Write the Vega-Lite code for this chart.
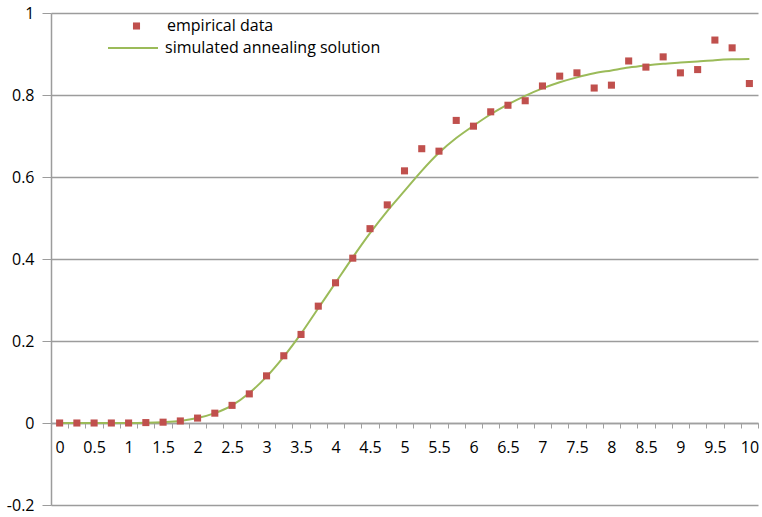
{
  "$schema": "https://vega.github.io/schema/vega-lite/v6.json",
  "autosize": "none",
  "width": 707,
  "height": 492,
  "padding": {"left": 51, "top": 13, "right": 4, "bottom": 12},
  "background": "white",
  "config": {
    "view": {"stroke": null},
    "font": "Open Sans",
    "axis": {"labelFont": "Open Sans", "labelFontSize": 16, "labelColor": "#000000"},
    "legend": {"labelFont": "Open Sans", "labelFontSize": 16, "labelColor": "#000000", "labelLimit": 0}
  },
  "data": {
    "values": [
      {"x": 0, "y": 0, "fit": 0},
      {"x": 0.25, "y": 0, "fit": 0},
      {"x": 0.5, "y": 0, "fit": 0},
      {"x": 0.75, "y": 0, "fit": 0},
      {"x": 1, "y": 0, "fit": 0},
      {"x": 1.25, "y": 0.001, "fit": 0.0005},
      {"x": 1.5, "y": 0.002, "fit": 0.002},
      {"x": 1.75, "y": 0.005, "fit": 0.005},
      {"x": 2, "y": 0.012, "fit": 0.012},
      {"x": 2.25, "y": 0.024, "fit": 0.024},
      {"x": 2.5, "y": 0.043, "fit": 0.043},
      {"x": 2.75, "y": 0.071, "fit": 0.073},
      {"x": 3, "y": 0.115, "fit": 0.113},
      {"x": 3.25, "y": 0.164, "fit": 0.162},
      {"x": 3.5, "y": 0.216, "fit": 0.218},
      {"x": 3.75, "y": 0.285, "fit": 0.28},
      {"x": 4, "y": 0.342, "fit": 0.342},
      {"x": 4.25, "y": 0.402, "fit": 0.404},
      {"x": 4.5, "y": 0.474, "fit": 0.463},
      {"x": 4.75, "y": 0.532, "fit": 0.517},
      {"x": 5, "y": 0.615, "fit": 0.566},
      {"x": 5.25, "y": 0.669, "fit": 0.615},
      {"x": 5.5, "y": 0.663, "fit": 0.659},
      {"x": 5.75, "y": 0.738, "fit": 0.695},
      {"x": 6, "y": 0.724, "fit": 0.725},
      {"x": 6.25, "y": 0.759, "fit": 0.753},
      {"x": 6.5, "y": 0.775, "fit": 0.777},
      {"x": 6.75, "y": 0.786, "fit": 0.798},
      {"x": 7, "y": 0.822, "fit": 0.816},
      {"x": 7.25, "y": 0.846, "fit": 0.831},
      {"x": 7.5, "y": 0.854, "fit": 0.843},
      {"x": 7.75, "y": 0.817, "fit": 0.853},
      {"x": 8, "y": 0.824, "fit": 0.86},
      {"x": 8.25, "y": 0.883, "fit": 0.867},
      {"x": 8.5, "y": 0.868, "fit": 0.872},
      {"x": 8.75, "y": 0.893, "fit": 0.876},
      {"x": 9, "y": 0.854, "fit": 0.879},
      {"x": 9.25, "y": 0.862, "fit": 0.882},
      {"x": 9.5, "y": 0.934, "fit": 0.885},
      {"x": 9.75, "y": 0.915, "fit": 0.887},
      {"x": 10, "y": 0.828, "fit": 0.888}
    ]
  },
  "layer": [
    {
      "mark": {"type": "line", "interpolate": "monotone", "strokeWidth": 2},
      "encoding": {
        "x": {
          "field": "x", "type": "quantitative",
          "scale": {"domain": [-0.125, 10.125], "nice": false, "zero": false},
          "axis": {
            "orient": "bottom",
            "title": null, "labels": false, "grid": false, "offset": -82,
            "domain": true, "domainColor": "#a0a0a0", "domainWidth": 1.5,
            "ticks": true, "tickColor": "#a0a0a0", "tickSize": 5, "tickWidth": 1,
            "values": [-0.125, 0.125, 0.375, 0.625, 0.875, 1.125, 1.375, 1.625, 1.875, 2.125, 2.375, 2.625, 2.875, 3.125, 3.375, 3.625, 3.875, 4.125, 4.375, 4.625, 4.875, 5.125, 5.375, 5.625, 5.875, 6.125, 6.375, 6.625, 6.875, 7.125, 7.375, 7.625, 7.875, 8.125, 8.375, 8.625, 8.875, 9.125, 9.375, 9.625, 9.875, 10.125]
          }
        },
        "y": {
          "field": "fit", "type": "quantitative",
          "scale": {"domain": [-0.2, 1], "nice": false, "zero": false},
          "axis": {
            "title": null, "values": [-0.2, 0, 0.2, 0.4, 0.6, 0.8, 1],
            "grid": true, "gridColor": "#9c9c9c", "gridWidth": 1.5,
            "domainColor": "#9c9c9c", "domainWidth": 1.5,
            "tickColor": "#9c9c9c", "tickSize": 9, "labelPadding": 8,
            "labelExpr": "toString(round(datum.value*10)/10)"
          }
        },
        "color": {
          "datum": "simulated annealing solution",
          "scale": {"range": ["#9BBB59"]},
          "legend": {
            "title": null, "orient": "none", "legendX": 56, "legendY": 9,
            "symbolType": "stroke", "symbolSize": 2500, "symbolStrokeWidth": 2,
            "labelOffset": 6, "padding": 0, "labelLimit": 0
          }
        }
      }
    },
    {
      "mark": {"type": "point", "shape": "square", "filled": true, "opacity": 1, "size": 50},
      "encoding": {
        "x": {
          "field": "x", "type": "quantitative",
          "scale": {"domain": [-0.125, 10.125], "nice": false, "zero": false},
          "axis": {
            "orient": "bottom",
            "title": null, "grid": false, "offset": -82, "domain": false, "ticks": false,
            "labelPadding": 16,
            "values": [0, 0.5, 1, 1.5, 2, 2.5, 3, 3.5, 4, 4.5, 5, 5.5, 6, 6.5, 7, 7.5, 8, 8.5, 9, 9.5, 10],
            "labelExpr": "toString(datum.value)"
          }
        },
        "y": {
          "field": "y", "type": "quantitative",
          "scale": {"domain": [-0.2, 1], "nice": false, "zero": false},
          "axis": {
            "title": null, "values": [-0.2, 0, 0.2, 0.4, 0.6, 0.8, 1],
            "grid": true, "gridColor": "#9c9c9c", "gridWidth": 1.5,
            "domainColor": "#9c9c9c", "domainWidth": 1.5,
            "tickColor": "#9c9c9c", "tickSize": 9, "labelPadding": 8,
            "labelExpr": "toString(round(datum.value*10)/10)"
          }
        },
        "color": {
          "datum": "empirical data",
          "scale": {"range": ["#C0504D"]},
          "legend": {
            "title": null, "orient": "none", "legendX": 77.5, "legendY": 5,
            "symbolType": "square", "symbolSize": 50, "symbolOpacity": 1,
            "labelOffset": 22.5, "padding": 0, "labelLimit": 0
          }
        }
      }
    }
  ],
  "resolve": {
    "scale": {"color": "independent"},
    "axis": {"x": "independent"},
    "legend": {"color": "independent"}
  }
}
